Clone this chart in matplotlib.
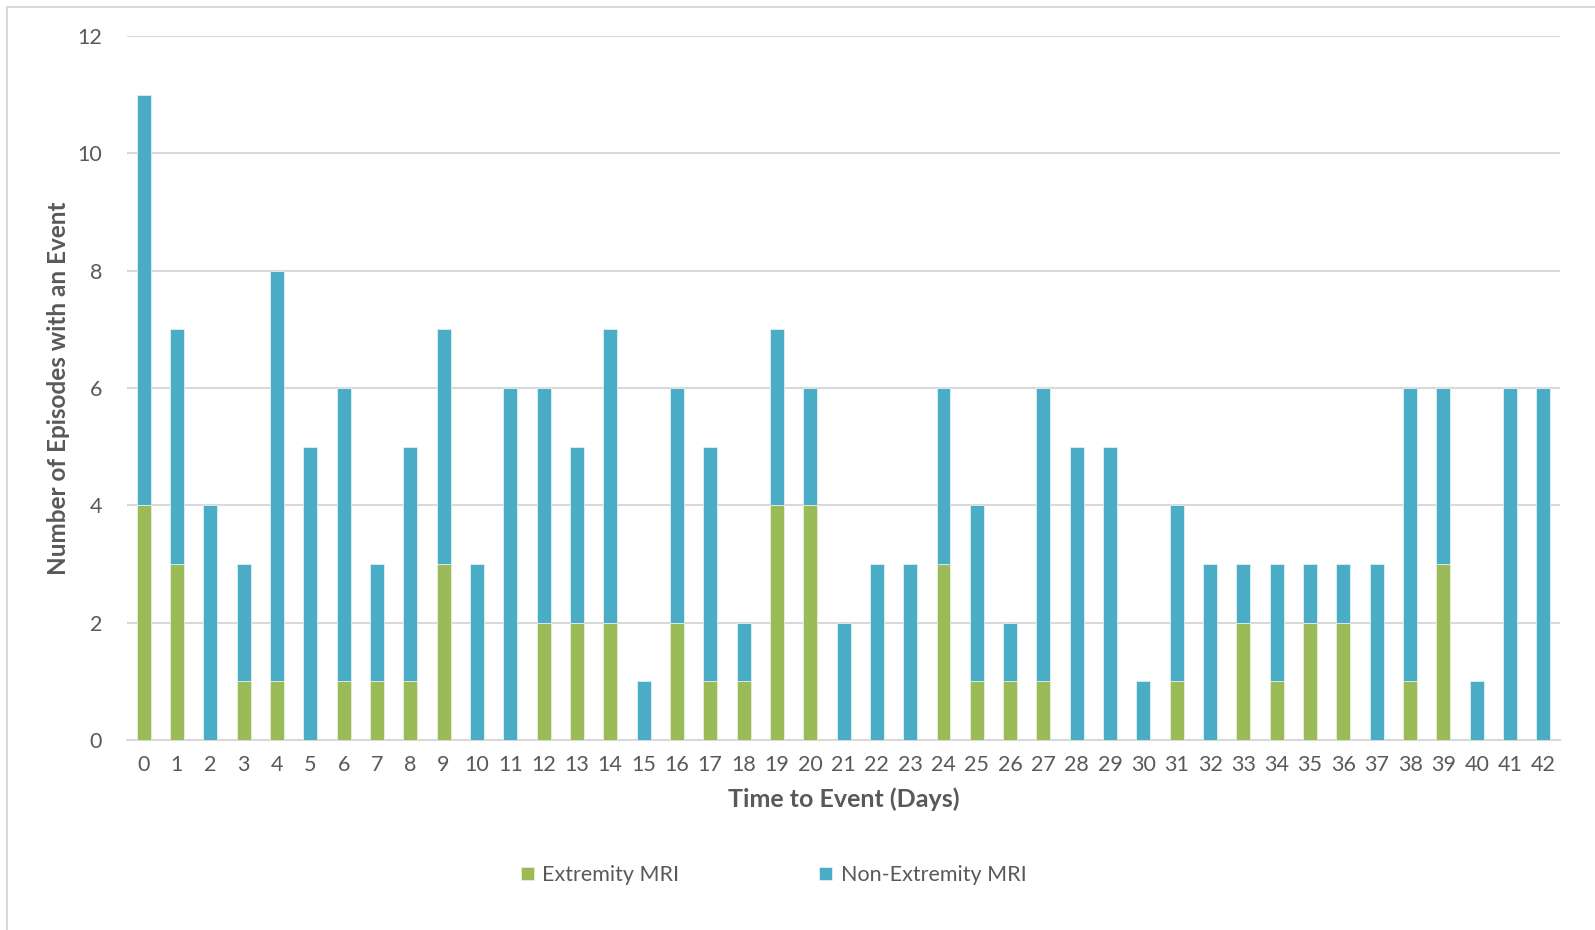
import matplotlib.pyplot as plt
from matplotlib.lines import Line2D
import numpy as np

plt.rcParams['font.family'] = ['Lato', 'DejaVu Sans']

days = list(range(43))
total = [11, 7, 4, 3, 8, 5, 6, 3, 5, 7, 3, 6, 6, 5, 7, 1, 6, 5, 2, 7, 6,
         2, 3, 3, 6, 4, 2, 6, 5, 5, 1, 4, 3, 3, 3, 3, 3, 3, 6, 6, 1, 6, 6]
extremity = [4, 3, 0, 1, 1, 0, 1, 1, 1, 3, 0, 0, 2, 2, 2, 0, 2, 1, 1, 4, 4,
             0, 0, 0, 3, 1, 1, 1, 0, 0, 0, 1, 0, 2, 1, 2, 2, 0, 1, 3, 0, 0, 0]
non_extremity = [t - e for t, e in zip(total, extremity)]

green = '#9BBB59'
blue = '#4BACC6'
txt = '#595959'
grid = '#D9D9D9'

fig = plt.figure(figsize=(15.95, 9.3), dpi=100)
ax = fig.add_axes([0.0796, 0.2043, 0.8985, 0.757])

x = np.arange(len(days))
ax.bar(x, extremity, width=0.42, color=green, edgecolor='#E8F0DA', linewidth=0.6,
       label='Extremity MRI', zorder=3)
ax.bar(x, non_extremity, width=0.42, bottom=extremity, color=blue,
       edgecolor='#DDF0F5', linewidth=0.6, label='Non-Extremity MRI', zorder=3)

ax.set_xlim(-0.5, len(days) - 0.5)
ax.set_ylim(0, 12)
ax.set_yticks(range(0, 13, 2))
ax.set_xticks(x)
ax.set_xticklabels([str(d) for d in days])
ax.yaxis.grid(True, color=grid, linewidth=1.5, zorder=0)
ax.set_axisbelow(True)
for s in ['top', 'right', 'left']:
    ax.spines[s].set_visible(False)
ax.spines['bottom'].set_color(grid)
ax.spines['bottom'].set_linewidth(1.5)
ax.tick_params(axis='both', length=0, labelsize=15.5, colors=txt)
ax.tick_params(axis='x', pad=11)
ax.tick_params(axis='y', pad=18)

ax.set_xlabel('Time to Event (Days)', fontsize=18, fontweight='bold', color=txt, labelpad=9)
ax.set_ylabel('Number of Episodes with an Event', fontsize=17.5, fontweight='bold',
              color=txt, labelpad=5)

h, l = ax.get_legend_handles_labels()
leg = fig.legend(h, l, loc='center', bbox_to_anchor=(0.485, 0.059), ncol=2, frameon=False,
                 fontsize=15.5, handlelength=0.6, handleheight=0.6, handletextpad=0.4,
                 columnspacing=6.5)
for t in leg.get_texts():
    t.set_color(txt)

# light frame of the chart area
fig.add_artist(Line2D([7 / 1595, 7 / 1595], [0, 1 - 7 / 930], color=grid, linewidth=1.5))
fig.add_artist(Line2D([7 / 1595, 1], [1 - 7 / 930, 1 - 7 / 930], color=grid, linewidth=1.5))

fig.savefig('out.png', dpi=100)
